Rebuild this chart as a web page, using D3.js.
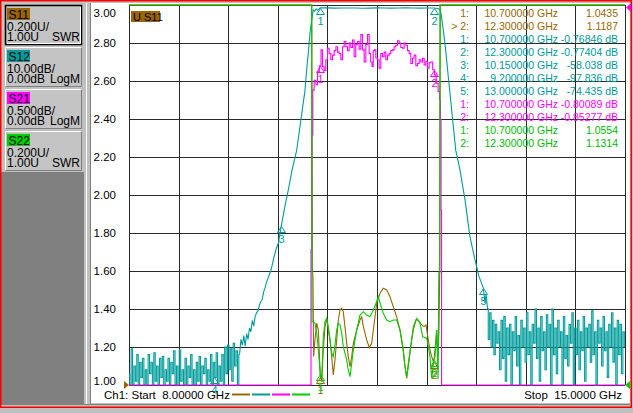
<!DOCTYPE html>
<html>
<head>
<meta charset="utf-8">
<script src="https://cdn.jsdelivr.net/npm/d3@7"></script>
<style>
body { margin: 0; background: #c0c0c0; }
svg { display: block; font-family: "Liberation Sans", Arial, sans-serif; }
</style>
</head>
<body>
<svg id="vna" width="633" height="413"></svg>
<script>
// ---- data ----
const traceNames = ["S11", "S12", "S21", "S22"];
const panelScale = ["0.200U/", "10.00dB/", "0.500dB/", "0.200U/"];
const panelRef = ["1.00U", "0.00dB", "0.00dB", "1.00U"];
const panelFormat = ["SWR", "LogM", "LogM", "SWR"];

const swrTicks = [3.00, 2.80, 2.60, 2.40, 2.20, 2.00, 1.80, 1.60, 1.40, 1.20, 1.00];
const freqGrid = [8.0, 8.7, 9.4, 10.1, 10.8, 11.5, 12.2, 12.9, 13.6, 14.3, 15.0];

// S11, SWR
const s11Freq = [8.0, 10.3, 10.58, 10.587, 10.596, 10.606, 10.62, 10.649, 10.672, 10.7, 10.72, 10.742, 10.766, 10.79, 10.813, 10.837, 10.861, 10.883, 10.907, 10.931, 10.954, 10.978, 11.002, 11.024, 11.048, 11.072, 11.095, 11.119, 11.143, 11.166, 11.213, 11.26, 11.284, 11.307, 11.355, 11.391, 11.425, 11.448, 11.472, 11.496, 11.542, 11.589, 11.637, 11.683, 11.73, 11.778, 11.825, 11.863, 11.895, 11.919, 11.942, 11.976, 12.012, 12.05, 12.083, 12.131, 12.163, 12.192, 12.224, 12.248, 12.272, 12.3, 12.319, 12.342, 12.36, 12.375, 12.385, 12.392, 15.0];
const s11Swr = [40, 25, 12, 1.62, 1.57, 1.15, 1.22, 1.325, 1.289, 1.0435, 1.017, 1.184, 1.307, 1.351, 1.289, 1.237, 1.149, 1.053, 1.132, 1.237, 1.342, 1.395, 1.404, 1.386, 1.307, 1.219, 1.149, 1.096, 1.149, 1.219, 1.289, 1.342, 1.359, 1.307, 1.237, 1.196, 1.219, 1.289, 1.359, 1.43, 1.483, 1.509, 1.5, 1.465, 1.412, 1.359, 1.289, 1.202, 1.096, 1.035, 1.114, 1.202, 1.289, 1.342, 1.342, 1.316, 1.307, 1.316, 1.237, 1.184, 1.149, 1.1187, 1.184, 1.289, 1.132, 1.3, 1.6, 12, 40];

// S22, SWR
const s22Freq = [8.0, 10.3, 10.577, 10.583, 10.601, 10.625, 10.649, 10.672, 10.7, 10.72, 10.742, 10.766, 10.79, 10.813, 10.837, 10.861, 10.883, 10.907, 10.931, 10.954, 10.978, 11.002, 11.024, 11.072, 11.095, 11.119, 11.143, 11.166, 11.213, 11.26, 11.307, 11.355, 11.401, 11.448, 11.486, 11.518, 11.552, 11.589, 11.637, 11.683, 11.73, 11.778, 11.825, 11.871, 11.895, 11.919, 11.942, 11.976, 12.012, 12.06, 12.107, 12.145, 12.201, 12.224, 12.248, 12.272, 12.3, 12.319, 12.342, 12.362, 12.372, 12.386, 12.39, 15.0];
const s22Swr = [40, 25, 15, 1.333, 1.333, 1.325, 1.272, 1.184, 1.0554, 1.035, 1.254, 1.333, 1.351, 1.307, 1.237, 1.167, 1.149, 1.211, 1.289, 1.325, 1.316, 1.272, 1.202, 1.132, 1.079, 1.044, 1.114, 1.184, 1.289, 1.368, 1.386, 1.368, 1.359, 1.395, 1.43, 1.465, 1.421, 1.377, 1.342, 1.333, 1.342, 1.342, 1.289, 1.184, 1.096, 1.044, 1.096, 1.202, 1.307, 1.351, 1.325, 1.254, 1.246, 1.202, 1.149, 1.035, 1.1314, 1.149, 1.289, 1.03, 1.59, 1.59, 15, 40];

// S21, dB
const s21Freq = [8.0, 10.3, 10.565, 10.572, 10.587, 10.601, 10.625, 10.65, 10.672, 10.7, 10.72, 10.742, 10.766, 10.79, 10.813, 10.837, 10.861, 10.883, 10.91, 10.931, 10.955, 10.978, 11.002, 11.025, 11.048, 11.072, 11.095, 11.119, 11.142, 11.166, 11.189, 11.212, 11.236, 11.26, 11.284, 11.307, 11.331, 11.354, 11.377, 11.401, 11.42, 11.439, 11.455, 11.472, 11.495, 11.518, 11.542, 11.565, 11.589, 11.612, 11.637, 11.66, 11.683, 11.706, 11.73, 11.754, 11.778, 11.8, 11.825, 11.848, 11.871, 11.895, 11.919, 11.942, 11.966, 11.99, 12.013, 12.036, 12.06, 12.083, 12.107, 12.131, 12.154, 12.177, 12.2, 12.224, 12.248, 12.272, 12.3, 12.319, 12.351, 12.375, 12.389, 12.4, 12.408, 12.415, 15.0];
const s21Db = [-90, -40, -8, -3.22, -1.71, -1.12, -0.99, -1.05, -0.88, -0.80089, -0.59, -0.81, -0.86, -0.72, -0.57, -0.64, -0.72, -0.66, -0.6, -0.55, -0.62, -0.64, -0.72, -0.55, -0.48, -0.55, -0.6, -0.5, -0.56, -0.46, -0.68, -0.52, -0.48, -0.58, -0.39, -0.59, -0.75, -0.52, -0.39, -0.64, -0.75, -0.81, -0.6, -0.59, -0.7, -0.72, -0.83, -0.64, -0.68, -0.62, -0.72, -0.66, -0.64, -0.6, -0.59, -0.55, -0.53, -0.47, -0.5, -0.56, -0.57, -0.5, -0.53, -0.6, -0.64, -0.77, -0.7, -0.66, -0.8, -0.77, -0.72, -0.75, -0.7, -0.79, -0.74, -0.83, -0.76, -0.75, -0.85277, -0.92, -1.03, -1.14, -1.25, -1.51, -2.7, -8, -90];

// S12, dB: noise floor below the band (sweep from 8.00 GHz, 0.02 GHz steps)
const s12LowStart = 8.0, s12LowStep = 0.02;
const s12LowDb = [-97, -101, -90.5, -100, -95, -99, -92, -101, -94, -98, -93, -100, -96, -101, -92, -97, -94, -100, -91.5, -99, -95, -101, -93, -98, -92.5, -100, -96, -99, -93, -101, -94, -97, -91, -100, -95, -101, -90.8, -99, -96, -100, -93, -101, -95, -98, -92, -100, -96, -101, -94, -99, -92.5, -100, -95, -97, -93, -101, -96, -99, -92, -100, -94, -98, -91.5, -101, -95, -99, -92, -100, -90, -97, -89.5, -96, -90.5, -99, -89, -95, -91, -101, -92];
// S12 skirts and passband
const s12EdgeFreq = [9.58, 9.6, 9.62, 9.64, 9.66, 9.68, 9.7, 9.72, 9.74, 9.76, 9.78, 9.8, 9.82, 9.84, 9.86, 9.88, 9.9, 9.92, 9.94, 9.96, 9.98, 10.0, 10.02, 10.05, 10.08, 10.107, 10.15, 10.2, 10.248, 10.3, 10.367, 10.413, 10.45, 10.484, 10.51, 10.53, 10.554, 10.578, 10.601, 10.62, 10.64, 10.66, 10.7, 10.8, 10.9, 11.0, 11.1, 11.2, 11.3, 11.4, 11.5, 11.6, 11.7, 11.8, 11.9, 12.0, 12.1, 12.2, 12.3, 12.36, 12.39, 12.403, 12.436, 12.469, 12.506, 12.54, 12.568, 12.611, 12.671, 12.742, 12.812, 12.883, 12.907, 12.94, 13.0, 13.024, 13.04];
const s12EdgeDb = [-88, -89.5, -87, -89.8, -86.5, -88, -85, -86, -83, -84.5, -82, -81, -80.5, -79, -78, -77.5, -75.5, -74.5, -73, -72, -71, -70, -68.5, -66, -64, -62.7, -58.038, -53, -48.7, -43.5, -38.2, -32, -27, -22.4, -16.5, -12.7, -7.4, -3.9, -1.3, -1.6, -1.0, -1.4, -0.76846, -0.75, -0.82, -0.8, -0.77, -0.78, -0.84, -0.82, -0.76, -0.79, -0.83, -0.8, -0.76, -0.78, -0.82, -0.79, -0.77404, -0.9, -1.3, -2.2, -6.6, -11.8, -18.9, -25, -30.3, -38.2, -43.4, -51.3, -61, -67.1, -68.9, -71.5, -74.435, -78.4, -76];
// S12 noise floor above the band (sweep from 13.06 GHz, 0.02 GHz steps)
const s12HighStart = 13.06, s12HighStep = 0.02;
const s12HighDb = [-80, -88, -81, -90, -83, -92, -84, -89, -86, -96, -83, -93, -82, -99, -85, -92, -84, -101, -86, -91, -82, -95, -87, -100, -83, -90, -85, -94, -81, -92, -86, -101, -84, -89, -80, -93, -85, -99, -82, -91, -86, -96, -81.5, -90, -84, -101, -80, -92, -85, -97, -83, -90, -86, -100, -82, -93, -87, -95, -84, -89, -81, -101, -85, -92, -83, -96, -86, -91, -82, -99, -85, -90, -84, -94, -80.5, -92, -86, -101, -83, -89, -85, -95, -82, -91, -86, -98, -84, -90, -81, -94, -85, -101, -83, -92, -84, -97, -86, -90];

// marker table
const markerTrace = ["S11", "S11", "S12", "S12", "S12", "S12", "S12", "S21", "S21", "S22", "S22"];
const markerNum = [1, 2, 1, 2, 3, 4, 5, 1, 2, 1, 2];
const markerFreq = [10.7, 12.3, 10.7, 12.3, 10.15, 9.2, 13.0, 10.7, 12.3, 10.7, 12.3];
const markerValue = [1.0435, 1.1187, -0.76846, -0.77404, -58.038, -97.836, -74.435, -0.80089, -0.85277, 1.0554, 1.1314];
const activeMarker = 1;

const startLabel = "Ch1: Start  8.00000 GHz";
const stopLabel = "Stop  15.0000 GHz";

// ---- drawing ----
const traceColor = {S11: "#996600", S12: "#009c9c", S21: "#ff00ff", S22: "#00cc00"};
const textColor = {S11: "#996600", S12: "#009999", S21: "#ff00ff", S22: "#00bb00"};

const plot = {left: 129, right: 625, top: 5, bottom: 385};
const x = d3.scaleLinear().domain([8, 15]).range([plot.left, plot.right]).clamp(true);
const ySwr = d3.scaleLinear().domain([1, 3]).range([plot.bottom, plot.top]).clamp(true);
const yS12 = d3.scaleLinear().domain([-100, 0]).range([plot.bottom, plot.top]).clamp(true);
const yS21 = d3.scaleLinear().domain([-5, 0]).range([plot.bottom, plot.top]).clamp(true);
const yFor = {S11: ySwr, S12: yS12, S21: yS21, S22: ySwr};

const svg = d3.select("#vna");

// window frame
svg.append("rect").attr("width", 633).attr("height", 413).attr("fill", "#c0c0c0");
svg.append("rect").attr("x", 0).attr("y", 172).attr("width", 84).attr("height", 233).attr("fill", "#808080");
svg.append("rect").attr("x", 91).attr("y", 3).attr("width", 539).attr("height", 400).attr("fill", "#fff");
svg.append("line").attr("x1", 86.5).attr("x2", 86.5).attr("y1", 3).attr("y2", 405).attr("stroke", "#fff");
svg.append("line").attr("x1", 90.5).attr("x2", 90.5).attr("y1", 3).attr("y2", 404).attr("stroke", "#808080");
svg.append("line").attr("x1", 84).attr("x2", 630).attr("y1", 404.5).attr("y2", 404.5).attr("stroke", "#808080");
svg.append("rect").attr("x", 0.75).attr("y", 0.75).attr("width", 630.5).attr("height", 406.5)
	.attr("fill", "none").attr("stroke", "#ff0000").attr("stroke-width", 1.5);

// channel panel
traceNames.forEach((t, i) => {
	const g = svg.append("g").attr("transform", `translate(5,${5 + i * 42})`);
	g.append("rect").attr("width", 77).attr("height", 40).attr("fill", "#c4c4c4");
	if (i === 0) {
		g.append("rect").attr("x", 0.5).attr("y", 0.5).attr("width", 76).attr("height", 39)
			.attr("fill", "none").attr("stroke", "#000").attr("stroke-width", 1.5);
		g.append("path").attr("d", "M75.5,2V38.5H2").attr("fill", "none").attr("stroke", "#fff");
	} else {
		g.append("path").attr("d", "M0.5,39.5V0.5H76.5").attr("fill", "none").attr("stroke", "#fff");
		g.append("path").attr("d", "M76.5,0.5V39.5H0.5").attr("fill", "none").attr("stroke", "#808080");
	}
	g.append("rect").attr("x", 2).attr("y", 3).attr("width", 23).attr("height", 12).attr("fill", traceColor[t]);
	const txt = (tx, ty, s, anchor) => g.append("text").attr("x", tx).attr("y", ty)
		.attr("font-size", 12).attr("fill", "#000").attr("text-anchor", anchor || "start").text(s);
	txt(3.5, 13.5, t);
	txt(2, 26, panelScale[i]);
	txt(2, 36, panelRef[i]);
	txt(75, 36, panelFormat[i], "end");
});

// grid
const grid = svg.append("g").attr("stroke", "#2a2a2a").attr("shape-rendering", "crispEdges");
freqGrid.forEach(f => grid.append("line")
	.attr("x1", Math.round(x(f)) + 0.5).attr("x2", Math.round(x(f)) + 0.5)
	.attr("y1", plot.top).attr("y2", plot.bottom));
swrTicks.forEach(v => grid.append("line")
	.attr("x1", plot.left).attr("x2", plot.right)
	.attr("y1", Math.round(ySwr(v)) + 0.5).attr("y2", Math.round(ySwr(v)) + 0.5));

// y labels (active trace S11)
svg.append("g").selectAll("text").data(swrTicks).join("text")
	.attr("x", 116).attr("text-anchor", "end").attr("font-size", 11.5).attr("fill", "#000")
	.attr("y", d => Math.max(13, Math.min(381, ySwr(d))) + 4)
	.text(d => d.toFixed(2));

// traces: each entry is [points, curve]
const s12Low = s12LowDb.map((v, i) => ({f: s12LowStart + i * s12LowStep, v}));
const s12High = s12HighDb.map((v, i) => ({f: s12HighStart + i * s12HighStep, v}));
const s12Edge = s12EdgeFreq.map((f, i) => ({f, v: s12EdgeDb[i]}));
const pieces = {
	S11: [[s11Freq.map((f, i) => ({f, v: s11Swr[i]})), d3.curveLinear]],
	S12: [
		[s12Low, d3.curveStep],
		[[s12Low[s12Low.length - 1]].concat(s12Edge, [s12High[0]]), d3.curveLinear],
		[s12High, d3.curveStep]
	],
	S21: [[s21Freq.map((f, i) => ({f, v: s21Db[i]})), d3.curveStep]],
	S22: [[s22Freq.map((f, i) => ({f, v: s22Swr[i]})), d3.curveLinear]]
};

traceNames.forEach(t => {
	const y = yFor[t];
	pieces[t].forEach(([pts, curve]) => {
		const line = d3.line().curve(curve).x(d => x(d.f)).y(d => y(d.v));
		svg.append("path").datum(pts)
			.attr("d", line)
			.attr("fill", "none")
			.attr("stroke", traceColor[t])
			.attr("stroke-width", 1.1);
	});
});

// reference position arrows
svg.append("path").attr("d", "M124,381L129,385L124,389Z").attr("fill", traceColor.S11);
svg.append("path").attr("d", "M630,381L625,385L630,389Z").attr("fill", traceColor.S22);
svg.append("path").attr("d", "M631,3L626,7.5L631,12Z").attr("fill", traceColor.S21);

// markers on traces
markerTrace.forEach((t, i) => {
	const px = Math.round(x(markerFreq[i])) + 0.5;
	const py = Math.round(yFor[t](markerValue[i])) + 0.5;
	svg.append("path")
		.attr("d", `M${px},${py}L${px - 4},${py + 6}L${px + 4},${py + 6}Z`)
		.attr("fill", "none").attr("stroke", traceColor[t]);
	svg.append("text").attr("x", px).attr("y", py + 16)
		.attr("text-anchor", "middle").attr("font-size", 11).attr("fill", traceColor[t])
		.text(markerNum[i]);
});

// trace title chip
svg.append("rect").attr("x", 131).attr("y", 11).attr("width", 29).attr("height", 11).attr("fill", traceColor.S11);
svg.append("text").attr("x", 133).attr("y", 20.5).attr("font-size", 11).attr("fill", "#000").text("U S11");

// marker readout table
const table = svg.append("g").attr("font-size", 10.5);
markerTrace.forEach((t, i) => {
	const cy = 13.3 + i * 13 + 3.8;
	const isSwr = t === "S11" || t === "S22";
	const num = (i === activeMarker ? "> " : "") + markerNum[i] + ":";
	const val = isSwr ? markerValue[i].toFixed(4) : markerValue[i].toPrecision(5) + " dB";
	table.append("text").attr("x", 469).attr("y", cy).attr("text-anchor", "end")
		.attr("fill", textColor[t]).style("white-space", "pre").text(num);
	table.append("text").attr("x", 558).attr("y", cy).attr("text-anchor", "end")
		.attr("fill", textColor[t]).text(markerFreq[i].toFixed(6) + " GHz");
	table.append("text").attr("x", 618).attr("y", cy).attr("text-anchor", "end")
		.attr("fill", textColor[t]).text(val);
});

// stimulus annotation
svg.append("text").attr("x", 104).attr("y", 398.5).attr("font-size", 11.5).attr("fill", "#000")
	.style("white-space", "pre").text(startLabel);
svg.append("text").attr("x", 622).attr("y", 398.5).attr("font-size", 11.5).attr("fill", "#000")
	.attr("text-anchor", "end").style("white-space", "pre").text(stopLabel);

// trace colour legend strip
traceNames.forEach((t, i) => {
	svg.append("line").attr("x1", 232 + i * 20).attr("x2", 250 + i * 20)
		.attr("y1", 394.5).attr("y2", 394.5).attr("stroke", traceColor[t]).attr("stroke-width", 2);
});
</script>
</body>
</html>
